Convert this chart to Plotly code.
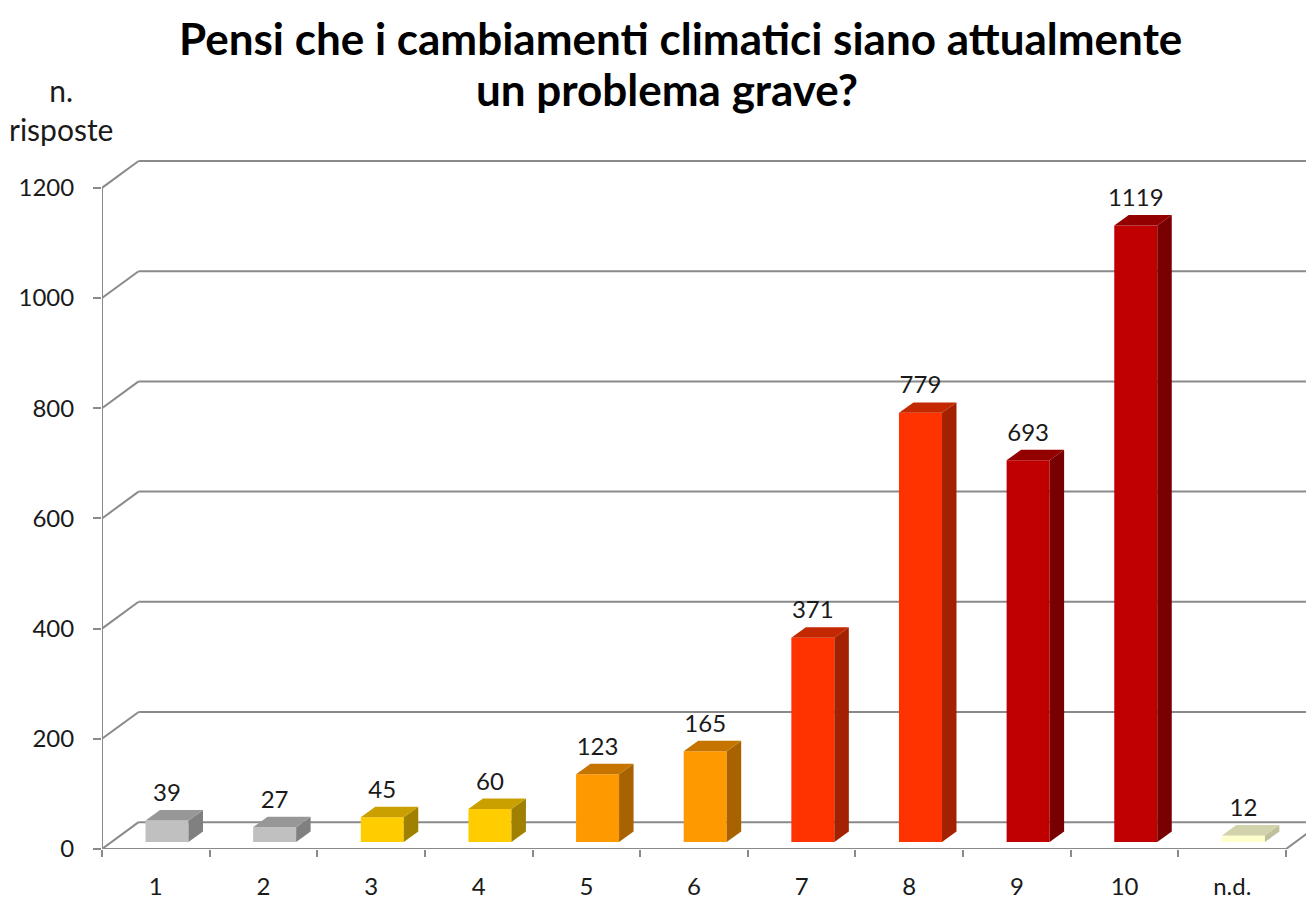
import plotly.graph_objects as go

# data
categories = ['1', '2', '3', '4', '5', '6', '7', '8', '9', '10', 'n.d.']
risposte = [39, 27, 45, 60, 123, 165, 371, 779, 693, 1119, 12]
y_ticks = [0, 200, 400, 600, 800, 1000, 1200]

# colours per bar (front / top / side face)
front_colors = ['#c0c0c0', '#c0c0c0', '#ffcc00', '#ffcc00', '#ff9900', '#ff9900',
                '#ff3300', '#ff3300', '#c00000', '#c00000', '#ffffcc']
top_colors = ['#979797', '#979797', '#c9a000', '#c9a000', '#c67400', '#c67400',
              '#c42800', '#c42800', '#930000', '#930000', '#d2d2ac']
side_colors = ['#808080', '#808080', '#a08000', '#a08000', '#a86300', '#a86300',
               '#a32000', '#a32000', '#780000', '#780000', '#c0c09c']

font = 'Lato, "Open Sans", sans-serif'
grid_col = '#8a8a8a'
txt_col = '#1a1a1a'

# the page body has an 8px margin, so the figure is drawn 8px smaller
# and every reference pixel position is shifted by it
PAGE = 8
W, H = 1314 - PAGE, 900 - PAGE
ML, MR, MT, MB = 102 - PAGE, 0, 160 - PAGE, 900 - 853
cat_px = 107.64
ppu = 665 / 1200            # px per value unit
x_max = (W - ML - MR) / cat_px
y_max = (H - MT - MB) / ppu

wall_dx = 36.6 / cat_px     # perspective offset of back wall
wall_dy = 27 / ppu
bar_dx = 14.5 / cat_px      # depth of each bar
bar_dy = 10.5 / ppu
bar_off = 43.5 / cat_px     # front face left edge inside category
bar_w = 43 / cat_px
bar_base = 7 / ppu
label_pad = 3 / ppu


def paper_x(ref_px):
    return (ref_px - PAGE - ML) / (W - ML - MR)


def paper_y(ref_px):
    return (H - MB - (ref_px - PAGE)) / (H - MT - MB)


fig = go.Figure()

# front faces
centers = [i + bar_off + bar_w / 2 for i in range(len(categories))]
fig.add_trace(go.Bar(x=centers, y=risposte, base=bar_base, width=bar_w,
                     marker=dict(color=front_colors, line=dict(width=0)),
                     hoverinfo='skip', showlegend=False))

# top and side faces
for i, v in enumerate(risposte):
    xl = i + bar_off
    xr = xl + bar_w
    top = bar_base + v
    fig.add_trace(go.Scatter(
        x=[xr, xr + bar_dx, xr + bar_dx, xr, xr],
        y=[bar_base, bar_base + bar_dy, top + bar_dy, top, bar_base],
        fill='toself', fillcolor=side_colors[i], mode='lines',
        line=dict(width=0, color=side_colors[i]), hoverinfo='skip', showlegend=False))
    fig.add_trace(go.Scatter(
        x=[xl, xl + bar_dx, xr + bar_dx, xr, xl],
        y=[top, top + bar_dy, top + bar_dy, top, top],
        fill='toself', fillcolor=top_colors[i], mode='lines',
        line=dict(width=0, color=top_colors[i]), hoverinfo='skip', showlegend=False))

# value labels
fig.add_trace(go.Scatter(
    x=centers, y=[bar_base + v + bar_dy + label_pad for v in risposte],
    mode='text', text=[str(v) for v in risposte], textposition='top center',
    textfont=dict(family=font, size=24, color=txt_col),
    hoverinfo='skip', showlegend=False))

# 3d walls: gridlines, axis line, floor
shapes = []
line = dict(color=grid_col, width=2)
for v in y_ticks:
    shapes.append(dict(type='line', xref='x', yref='y', layer='below', line=line,
                       x0=0, y0=v, x1=wall_dx, y1=v + wall_dy))
    shapes.append(dict(type='line', xref='x', yref='y', layer='below', line=line,
                       x0=wall_dx, y0=v + wall_dy, x1=x_max + 1, y1=v + wall_dy))
n = len(categories)
shapes.append(dict(type='line', xref='x', yref='y', layer='below', line=line,
                   x0=0, y0=0, x1=0, y1=y_ticks[-1]))
shapes.append(dict(type='line', xref='x', yref='y', layer='below', line=line,
                   x0=0, y0=0, x1=n, y1=0))
shapes.append(dict(type='line', xref='x', yref='y', layer='below', line=line,
                   x0=n, y0=0, x1=n + wall_dx, y1=wall_dy))

title_font = dict(family=font, size=44, color='black')
fig.update_layout(
    width=W, height=H,
    margin=dict(l=ML, r=MR, t=MT, b=MB),
    paper_bgcolor='white', plot_bgcolor='white',
    shapes=shapes,
    font=dict(family=font, color=txt_col),
    annotations=[
        dict(text='<b>Pensi che i cambiamenti climatici siano attualmente</b>',
             xref='paper', yref='paper', x=paper_x(680), y=paper_y(37),
             xanchor='center', yanchor='middle', showarrow=False, font=title_font),
        dict(text='<b>un problema grave?</b>',
             xref='paper', yref='paper', x=paper_x(667), y=paper_y(89),
             xanchor='center', yanchor='middle', showarrow=False, font=title_font),
        dict(text='n.<br>risposte', xref='paper', yref='paper',
             x=paper_x(61), y=paper_y(109),
             xanchor='center', yanchor='middle', showarrow=False,
             font=dict(family=font, size=30, color=txt_col)),
    ],
)

fig.update_xaxes(
    range=[0, x_max], showgrid=False, zeroline=False, showline=False,
    tickmode='array', tickvals=[i + 0.5 for i in range(n)], ticktext=categories,
    ticks='', ticklabelstandoff=21,
    tickfont=dict(family=font, size=24, color=txt_col),
    minor=dict(tickmode='array', tickvals=list(range(n + 1)), ticks='outside',
               ticklen=7, tickwidth=2, tickcolor=grid_col, showgrid=False),
)
fig.update_yaxes(
    range=[0, y_max], showgrid=False, zeroline=False, showline=False,
    tickmode='array', tickvals=y_ticks, ticks='outside', ticklen=8, tickwidth=2,
    tickcolor=grid_col, ticklabelstandoff=14,
    tickfont=dict(family=font, size=24, color=txt_col),
)

fig.write_html('out.html')
